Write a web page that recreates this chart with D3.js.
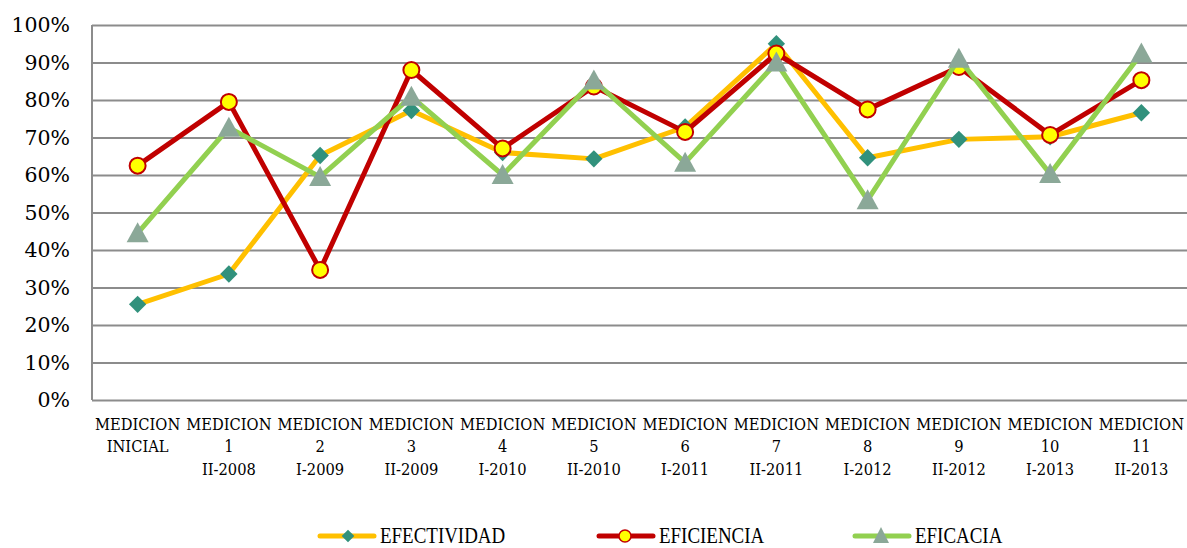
<!DOCTYPE html>
<html>
<head>
<meta charset="utf-8">
<script src="https://cdn.jsdelivr.net/npm/d3@7"></script>
<style>
  html, body { margin: 0; padding: 0; background: #fff; }
  svg { display: block; }
  .yaxis text { font-family: "DejaVu Serif", serif; font-size: 20.5px; fill: #000; }
  .xaxis text { font-family: "DejaVu Serif", serif; font-size: 16.5px; fill: #000; }
  .legend text { font-family: "Liberation Serif", serif; font-size: 23px; fill: #000; }
</style>
</head>
<body>
<svg id="chart" width="1187" height="548"></svg>
<script>
// category labels (three lines each)
const catLine1 = ["MEDICION", "MEDICION", "MEDICION", "MEDICION", "MEDICION", "MEDICION",
  "MEDICION", "MEDICION", "MEDICION", "MEDICION", "MEDICION", "MEDICION"];
const catLine2 = ["INICIAL", "1", "2", "3", "4", "5", "6", "7", "8", "9", "10", "11"];
const catLine3 = ["", "II-2008", "I-2009", "II-2009", "I-2010", "II-2010",
  "I-2011", "II-2011", "I-2012", "II-2012", "I-2013", "II-2013"];

const yTicks = [0, 0.1, 0.2, 0.3, 0.4, 0.5, 0.6, 0.7, 0.8, 0.9, 1];

const efectividad = [0.255, 0.336, 0.652, 0.772, 0.66, 0.643, 0.728, 0.95, 0.646, 0.695, 0.702, 0.766];
const eficiencia  = [0.625, 0.795, 0.347, 0.88, 0.671, 0.836, 0.715, 0.924, 0.775, 0.888, 0.707, 0.853];
const eficacia    = [0.445, 0.726, 0.595, 0.809, 0.60, 0.852, 0.633, 0.90, 0.533, 0.91, 0.603, 0.924];

const seriesNames = ["EFECTIVIDAD", "EFICIENCIA", "EFICACIA"];

const plot = { left: 92, right: 1187, top: 25, bottom: 400 };

const svg = d3.select("#chart");
const idx = d3.range(catLine1.length);

const x = d3.scaleBand().domain(idx).range([plot.left, plot.right]);
const cx = i => x(i) + x.bandwidth() / 2;
const y = d3.scaleLinear().domain([0, 1]).range([plot.bottom, plot.top]);

// gridlines + y labels
const yAxis = svg.append("g")
  .attr("class", "yaxis")
  .attr("transform", "translate(" + plot.left + ",0)")
  .call(d3.axisLeft(y).tickValues(yTicks).tickFormat(d3.format(".0%"))
    .tickSize(-(plot.right - plot.left)).tickPadding(22));
yAxis.select(".domain").remove();
yAxis.selectAll(".tick line").attr("stroke", "#8c8c8c").attr("stroke-width", 2);

// left axis line
svg.append("line")
  .attr("x1", plot.left).attr("x2", plot.left)
  .attr("y1", y(1)).attr("y2", y(0))
  .attr("stroke", "#8c8c8c").attr("stroke-width", 2);

// x labels (narrowed a bit to mimic the original condensed serif)
const xAxis = svg.append("g")
  .attr("class", "xaxis")
  .attr("transform", "translate(0," + plot.bottom + ")")
  .call(d3.axisBottom(x).tickSize(0).tickFormat(""));
xAxis.select(".domain").remove();
xAxis.selectAll(".tick text").remove();
xAxis.selectAll(".tick").each(function(d) {
  const t = d3.select(this).append("text")
    .attr("text-anchor", "middle")
    .attr("transform", "scale(0.89,1)");
  [catLine1[d], catLine2[d], catLine3[d]].forEach((s, k) => {
    t.append("tspan").attr("x", 0).attr("y", 30 + k * 22.5).text(s);
  });
});

const line = d3.line().x((d, i) => cx(i)).y(d => y(d));

const styles = [
  { color: "#FFC000", marker: "diamond" },
  { color: "#C00000", marker: "circle" },
  { color: "#92D050", marker: "triangle" }
];

function drawMarker(g, type, px, py) {
  if (type === "diamond") {
    g.append("path")
      .attr("d", d3.symbol().type(d3.symbolSquare).size(150)())
      .attr("transform", "translate(" + px + "," + py + ") rotate(45)")
      .attr("fill", "#31917C");
  } else if (type === "circle") {
    g.append("circle")
      .attr("cx", px).attr("cy", py).attr("r", 8)
      .attr("fill", "#FFFF00").attr("stroke", "#C00000").attr("stroke-width", 2);
  } else {
    g.append("path")
      .attr("d", "M0,-11L11,9L-11,9Z")
      .attr("transform", "translate(" + px + "," + py + ")")
      .attr("fill", "#8BA898");
  }
}

[efectividad, eficiencia, eficacia].forEach((vals, s) => {
  const g = svg.append("g");
  g.append("path")
    .attr("d", line(vals))
    .attr("fill", "none")
    .attr("stroke", styles[s].color)
    .attr("stroke-width", 5)
    .attr("stroke-linejoin", "round");
  vals.forEach((v, i) => drawMarker(g, styles[s].marker, cx(i), y(v)));
});

// legend
const legendX = [318, 597, 853];
const legend = svg.append("g").attr("class", "legend");
seriesNames.forEach((name, s) => {
  const g = legend.append("g").attr("transform", "translate(" + legendX[s] + ",536)");
  g.append("line")
    .attr("x1", 2).attr("x2", 56).attr("y1", 0).attr("y2", 0)
    .attr("stroke", styles[s].color).attr("stroke-width", 5).attr("stroke-linecap", "round");
  const mg = g.append("g");
  if (styles[s].marker === "diamond") {
    mg.append("path")
      .attr("d", d3.symbol().type(d3.symbolSquare).size(80)())
      .attr("transform", "translate(30,0) rotate(45)")
      .attr("fill", "#31917C");
  } else if (styles[s].marker === "circle") {
    mg.append("circle").attr("cx", 28).attr("cy", 0).attr("r", 6)
      .attr("fill", "#FFFF00").attr("stroke", "#C00000").attr("stroke-width", 1.5);
  } else {
    mg.append("path").attr("d", "M28,-9L36,7L20,7Z").attr("fill", "#8BA898");
  }
  g.append("text")
    .attr("transform", "translate(62,7) scale(0.824,1)")
    .text(name);
});
</script>
</body>
</html>
